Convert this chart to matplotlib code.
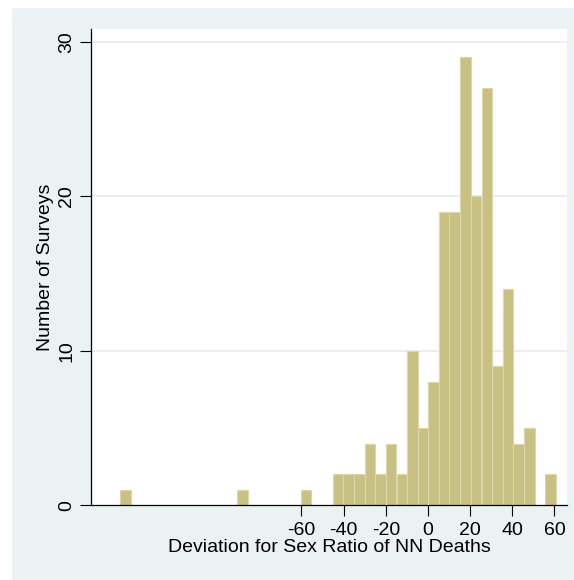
import numpy as np
import matplotlib
matplotlib.use('Agg')
import matplotlib.pyplot as plt
from matplotlib.patches import Rectangle

plt.rcParams['font.family'] = ['Liberation Sans', 'DejaVu Sans']
plt.rcParams['axes.unicode_minus'] = False

# histogram bins (left edge of each non-empty bin) and counts
bin_width = 5.04
bin_left = [-146.0, -90.6, -60.3, -45.2, -40.2, -35.1, -30.1, -25.0, -20.0,
            -14.9, -9.9, -4.9, 0.2, 5.2, 10.2, 15.3, 20.3, 25.4, 30.4, 35.4,
            40.5, 45.5, 55.6]
counts = [1, 1, 1, 2, 2, 2, 4, 2, 4, 2, 10, 5, 8, 19, 19, 29, 20, 27, 9, 14,
          4, 5, 2]

xticks = [-60, -40, -20, 0, 20, 40, 60]
yticks = [0, 10, 20, 30]

bg = '#eaf2f3'
fig = plt.figure(figsize=(5.74, 5.80), dpi=100)
fig.patches.append(Rectangle((12 / 574, 0), 1 - 12 / 574, 1 - 8 / 580,
                             transform=fig.transFigure, facecolor=bg,
                             edgecolor='none', zorder=-10))

ax = fig.add_axes([90.7 / 574, 1 - 505.3 / 580, (567.3 - 90.7) / 574, (505.3 - 29) / 580])
ax.set_facecolor('white')

ax.bar(bin_left, counts, width=bin_width, align='edge',
       color='#c9c183', edgecolor='#dcd6aa', linewidth=0.8, zorder=2)

ax.set_xlim(-160, 66.1)
ax.set_ylim(0, 30.83)
ax.set_xticks(xticks)
ax.set_yticks(yticks)
ax.set_yticklabels([str(t) for t in yticks], rotation=90, va='center')
ax.tick_params(axis='both', labelsize=14, length=8, width=0.8, color='black')
ax.tick_params(axis='x', pad=4)
ax.tick_params(axis='y', pad=3)

for y in yticks[1:]:
    ax.axhline(y, color='#e3ecee', linewidth=1.2, zorder=1)

for s in ['top', 'right']:
    ax.spines[s].set_visible(False)
for s in ['left', 'bottom']:
    ax.spines[s].set_linewidth(0.9)

ax.set_xlabel('Deviation for Sex Ratio of NN Deaths', fontsize=14)
ax.set_ylabel('Number of Surveys', fontsize=14)
ax.xaxis.set_label_coords(0.5, -(548 - 505.3) / 476.3)
ax.xaxis.label.set_va('center')
ax.yaxis.set_label_coords(-(90.7 - 45) / 476.6, 0.5)
ax.yaxis.label.set_va('center')

fig.savefig('out.png', dpi=100)
